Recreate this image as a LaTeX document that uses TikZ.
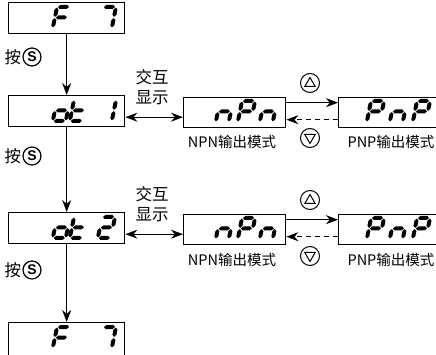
\documentclass[tikz,border=0pt]{standalone}
\usepackage{fontspec}
\setmainfont{Noto Sans CJK SC}
\newfontfamily\lsans{Liberation Sans}
\usetikzlibrary{arrows.meta,calc}
% seven segment helpers (y axis points down), half thickness 2
\newcommand{\hseg}[2]{\fill (#1,#2) -- ++(2,-2) -- ++(7,0) -- ++(2,2) -- ++(-2,2) -- ++(-7,0) -- cycle;}
\newcommand{\vseg}[2]{\fill (#1,#2) -- ++(2,2) -- ++(0,5.3) -- ++(-2,2) -- ++(-2,-2) -- ++(0,-5.3) -- cycle;}
\newcommand{\segA}{\hseg{1}{0}}
\newcommand{\segG}{\hseg{1}{10.5}}
\newcommand{\segD}{\hseg{1}{21}}
\newcommand{\segF}{\vseg{0}{0.6}}
\newcommand{\segE}{\vseg{0}{11.1}}
\newcommand{\segB}{\vseg{13}{0.6}}
\newcommand{\segC}{\vseg{13}{11.1}}
\newcommand{\digit}[3]{\begin{scope}[shift={(#1,#2)},xslant=0.2]#3\end{scope}}
\newcommand{\chF}{\segA\segF\segE\segG}
\newcommand{\chSeven}{\segA\segB\segC}
\newcommand{\cho}{\segG\segC\segD\segE}
\newcommand{\cht}{\segF\segE\segG\segD}
\newcommand{\chOne}{\segB\segC}
\newcommand{\chTwo}{\segA\segB\segG\segE\segD}
\newcommand{\chn}{\segG\segC\segE}
\newcommand{\chP}{\segA\segB\segF\segE\segG}
\begin{document}
\begin{tikzpicture}[x=1pt,y=-1pt,
  dbox/.style={draw,line width=1.4pt,minimum width=116pt,minimum height=31pt,inner sep=0pt,anchor=north west},
  mbox/.style={draw,line width=1.4pt,minimum width=102pt,minimum height=30pt,inner sep=0pt,anchor=north west},
  arr/.style={line width=1pt,-{Stealth[length=12pt,width=9pt]}},
  dbl/.style={line width=1pt,{Stealth[length=12pt,width=9pt]}-{Stealth[length=12pt,width=9pt]}},
  darr/.style={line width=1pt,dash pattern=on 5pt off 4pt,-{Stealth[length=12pt,width=9pt]}},
  lbl/.style={inner sep=0pt,font=\fontsize{16.5}{19}\selectfont},
  captxt/.style={inner sep=0pt,font=\fontsize{14.5}{17}\selectfont},
  sbtn/.style={circle,draw,line width=1.2pt,minimum size=18pt,inner sep=0pt,font=\lsans\bfseries\fontsize{14}{14}\selectfont},
  cbtn/.style={circle,draw,line width=1pt,minimum size=19pt,inner sep=0pt},
  tri/.style={line width=1pt}]
\useasboundingbox (0,0) rectangle (436,355);

% boxes
\node[dbox] (f7a) at (8,2) {};
\node[dbox] (ot1) at (8,95) {};
\node[dbox] (ot2) at (8,212) {};
\node[dbox,minimum height=40pt] (f7b) at (8,322) {};
\node[mbox] (npn1) at (183,97) {};
\node[mbox,minimum width=98pt] (pnp1) at (338,97) {};
\node[mbox] (npn2) at (183,214) {};
\node[mbox,minimum width=98pt] (pnp2) at (338,214) {};

% display digits
\digit{57}{7}{\chF}\digit{103}{7}{\chSeven}
\digit{57}{100}{\cho}\digit{74}{100}{\cht}\digit{103}{100}{\chOne}
\digit{57}{217}{\cho}\digit{74}{217}{\cht}\digit{102}{217}{\chTwo}
\digit{57}{327}{\chF}\digit{103}{327}{\chSeven}
\digit{220}{101}{\chn}\digit{242}{101}{\chP}\digit{264}{101}{\chn}
\digit{371}{101}{\chP}\digit{394}{101}{\chn}\digit{417}{101}{\chP}
\digit{220}{218}{\chn}\digit{242}{218}{\chP}\digit{264}{218}{\chn}
\digit{371}{218}{\chP}\digit{394}{218}{\chn}\digit{417}{218}{\chP}

% press S labels
\node[sbtn] (s1) at (32,57) {S};
\node[lbl,anchor=east,xshift=-1pt] (p1) at (s1.west) {按};
\node[sbtn] (s2) at (32,156) {S};
\node[lbl,anchor=east,xshift=-1pt] (p2) at (s2.west) {按};
\node[sbtn] (s3) at (32,270) {S};
\node[lbl,anchor=east,xshift=-1pt] (p3) at (s3.west) {按};

% vertical arrows
\draw[arr] (f7a.south) -- (ot1.north);
\draw[arr] (ot1.south) -- (ot2.north);
\draw[arr] (ot2.south) -- (f7b.north);

% interactive display labels
\node[lbl] (j1) at (152,77) {交互};
\node[lbl] (x1) at (152,98) {显示};
\node[lbl] (j2) at (152,194) {交互};
\node[lbl] (x2) at (152,215) {显示};
\draw[dbl] ([yshift=-6pt]ot1.east) -- ([yshift=-6pt]ot1.east -| npn1.west);
\draw[dbl] ([yshift=-6pt]ot2.east) -- ([yshift=-6pt]ot2.east -| npn2.west);

% mode switching
\draw[arr] ([yshift=10pt]npn1.east) -- ([yshift=10pt]npn1.east -| pnp1.west);
\draw[darr] ([yshift=-7pt]pnp1.west) -- ([yshift=-7pt]pnp1.west -| npn1.east);
\draw[arr] ([yshift=10pt]npn2.east) -- ([yshift=10pt]npn2.east -| pnp2.west);
\draw[darr] ([yshift=-7pt]pnp2.west) -- ([yshift=-7pt]pnp2.west -| npn2.east);

% up / down buttons
\node[cbtn] (u1) at (310,83) {};
\draw[tri] ($(u1)+(0,-5.5)$) -- ($(u1)+(5.2,3.5)$) -- ($(u1)+(-5.2,3.5)$) -- cycle;
\node[cbtn] (d1) at (310,138) {};
\draw[tri] ($(d1)+(0,5.5)$) -- ($(d1)+(5.2,-3.5)$) -- ($(d1)+(-5.2,-3.5)$) -- cycle;
\node[cbtn] (u2) at (310,200) {};
\draw[tri] ($(u2)+(0,-5.5)$) -- ($(u2)+(5.2,3.5)$) -- ($(u2)+(-5.2,3.5)$) -- cycle;
\node[cbtn] (d2) at (310,256) {};
\draw[tri] ($(d2)+(0,5.5)$) -- ($(d2)+(5.2,-3.5)$) -- ($(d2)+(-5.2,-3.5)$) -- cycle;

% captions
\node[captxt] (c1) at (232,142) {NPN输出模式};
\node[captxt] (c2) at (391,142) {PNP输出模式};
\node[captxt] (c3) at (232,260) {NPN输出模式};
\node[captxt] (c4) at (391,260) {PNP输出模式};
\end{tikzpicture}
\end{document}
